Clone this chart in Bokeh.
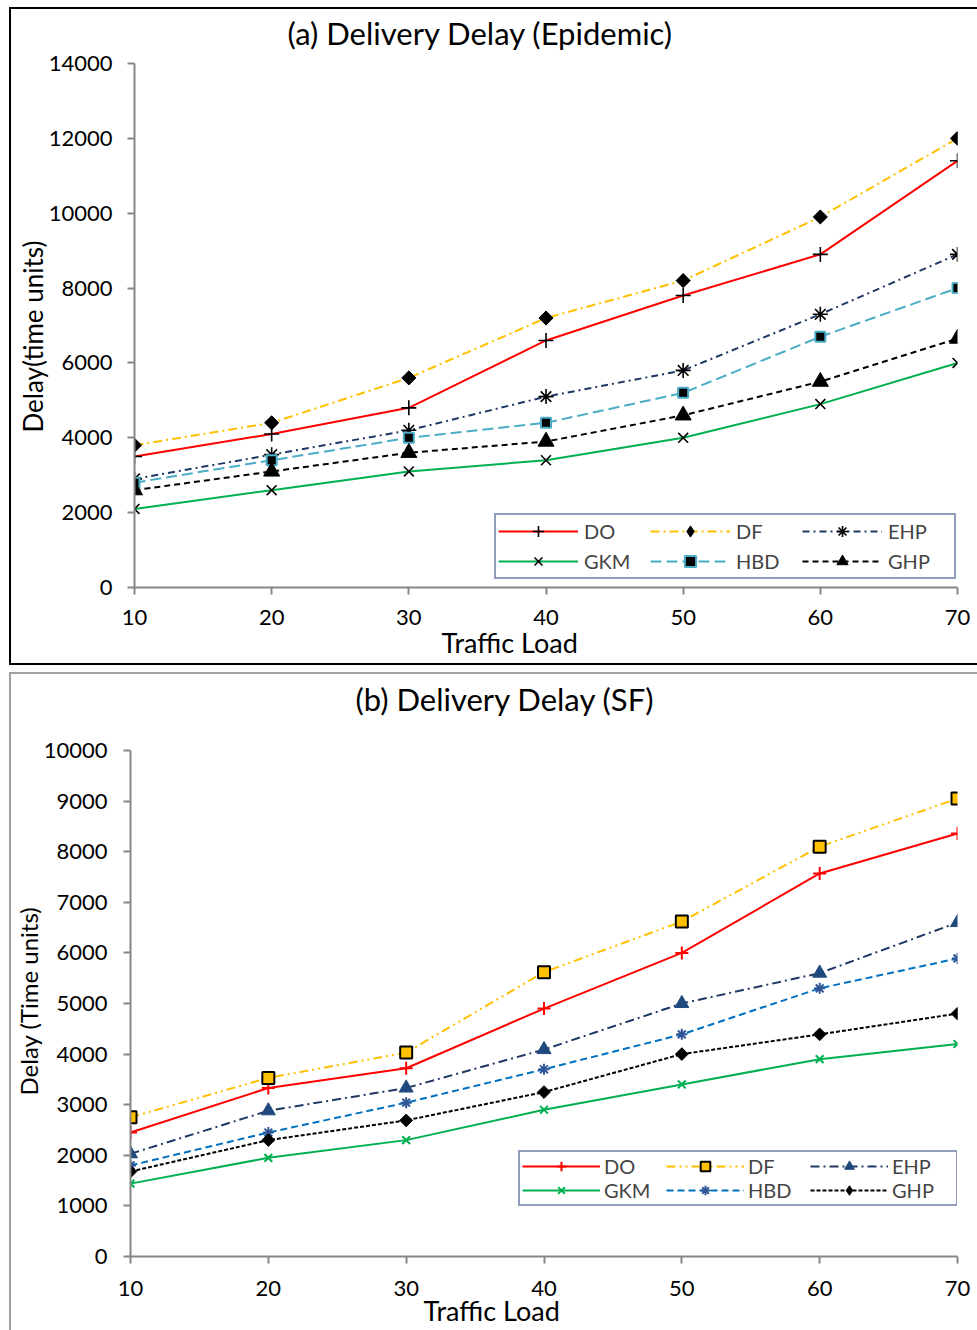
import math
from bokeh.plotting import figure
from bokeh.models import (Legend, LegendItem, Title, FixedTicker, Range1d,
                          ColumnDataSource)
from bokeh.embed import file_html
from bokeh.resources import INLINE

# ---------------- data ----------------
loads = [10, 20, 30, 40, 50, 60, 70]
series_names = ["DO", "DF", "EHP", "GKM", "HBD", "GHP"]

# (a) Epidemic
epi_do = [3500, 4100, 4800, 6600, 7800, 8900, 11400]
epi_df = [3800, 4400, 5600, 7200, 8200, 9900, 12000]
epi_ehp = [2900, 3550, 4200, 5100, 5800, 7300, 8900]
epi_gkm = [2100, 2600, 3100, 3400, 4000, 4900, 6000]
epi_hbd = [2800, 3400, 4000, 4400, 5200, 6700, 8000]
epi_ghp = [2600, 3100, 3600, 3900, 4600, 5500, 6650]

# (b) SF
sf_do = [2450, 3330, 3720, 4900, 6000, 7570, 8360]
sf_df = [2750, 3530, 4030, 5620, 6620, 8100, 9050]
sf_ehp = [2030, 2880, 3330, 4090, 5000, 5600, 6600]
sf_gkm = [1440, 1950, 2300, 2900, 3400, 3900, 4200]
sf_hbd = [1800, 2450, 3040, 3700, 4390, 5300, 5890]
sf_ghp = [1680, 2300, 2690, 3250, 4000, 4390, 4800]

epi_yticks = [0, 2000, 4000, 6000, 8000, 10000, 12000, 14000]
sf_yticks = [0, 1000, 2000, 3000, 4000, 5000, 6000, 7000, 8000, 9000, 10000]
x_ticks = [10, 20, 30, 40, 50, 60, 70]

FONT = "Lato"
AXIS_GREY = "#868686"

# style: (line color, dash, marker, size, fill, marker line color, marker line width,
#         angle, legend marker, legend marker size)
epi_styles = {
    "DO":  ("#FF0000", "solid",   "cross",    15, "black", "black",   1.6, 0.0, None, 0),
    "DF":  ("#FFC000", "9 4 2 4", "square",   10, "black", "black",   1.0, math.pi / 4, "diamond", 12),
    "EHP": ("#1F3864", "7 4 2 4", "asterisk", 15, "black", "black",   1.6, 0.0, None, 0),
    "GKM": ("#00B050", "solid",   "x",        14, "black", "black",   1.6, 0.0, None, 0),
    "HBD": ("#4BACC6", "11 5",    "square",   10, "black", "#4BACC6", 2.0, 0.0, None, 0),
    "GHP": ("#000000", "6 4",     "triangle", 16, "black", "black",   1.0, 0.0, None, 0),
}
sf_styles = {
    "DO":  ("#FF0000", "solid",       "cross",    13, "#FF0000", "#FF0000", 2.0, 0.0, None, 0),
    "DF":  ("#FFC000", "9 4 2 4 2 4", "square",   12, "#FFC000", "black",   2.0, 0.0, None, 0),
    "EHP": ("#1F3864", "9 4 2 4",     "triangle", 14, "#1F497D", "#1F497D", 1.0, 0.0, None, 0),
    "GKM": ("#00B050", "solid",       "x",        11, "#00B050", "#00B050", 2.0, 0.0, None, 0),
    "HBD": ("#0070C0", "7 4",         "asterisk", 11, "#2F5597", "#2F5597", 2.0, 0.0, None, 0),
    "GHP": ("#000000", "4 2",         "square",   9,  "black",   "black",   1.0, math.pi / 4, "diamond", 10),
}


def make_title(text, size, align_offset, standoff):
    t = Title(text=text, align="left", offset=align_offset,
              text_font=FONT, text_font_size=size, text_font_style="normal",
              text_color="black")
    try:
        t.standoff = standoff
    except Exception:
        t.standoff = 0
    return t


def make_panel(series, styles, yticks, ymax, geom, texts, legend_geom, xstandoff, ystandoff,
               outline):
    (w, h, bl, br, bt, bb) = geom
    p = figure(width=w, height=h, output_backend="svg", toolbar_location=None,
               x_range=Range1d(10, 70), y_range=Range1d(0, ymax),
               min_border_left=bl, min_border_right=br, min_border_top=bt,
               min_border_bottom=bb, title=None)
    p.styles = {"outline": outline}
    p.xgrid.visible = False
    p.ygrid.visible = False
    p.outline_line_color = None
    p.background_fill_color = "white"
    p.border_fill_color = "white"

    for ax in (p.xaxis[0], p.yaxis[0]):
        ax.axis_line_color = AXIS_GREY
        ax.axis_line_width = 2
        ax.major_tick_line_color = AXIS_GREY
        ax.major_tick_line_width = 2
        ax.major_tick_in = 0
        ax.major_tick_out = 7
        ax.minor_tick_line_color = None
        ax.major_label_text_font = FONT
        ax.major_label_text_font_size = "22px"
        ax.major_label_text_color = "#000000"
    p.xaxis[0].ticker = FixedTicker(ticks=x_ticks)
    p.yaxis[0].ticker = FixedTicker(ticks=yticks)
    p.xaxis[0].major_label_standoff = xstandoff
    p.yaxis[0].major_label_standoff = ystandoff

    items = []
    for name in series_names:
        col, dash, mk, ms, fill, mline, mlw, ang, leg_mk, leg_ms = styles[name]
        ys = series[name]
        src = ColumnDataSource(dict(x=loads, y=ys))
        lr = p.line("x", "y", source=src, line_color=col, line_width=2, line_dash=dash)
        if leg_mk is not None:
            # a diamond that sits fully inside the rotated square; it gives the legend
            # its diamond glyph (legend glyphs ignore the marker angle)
            leg_r = p.scatter("x", "y", source=src, marker=leg_mk, size=leg_ms,
                              fill_color=fill, line_color=mline, line_width=1)
        sr = p.scatter("x", "y", source=src, marker=mk, size=ms, fill_color=fill,
                       line_color=mline, line_width=mlw, angle=ang)
        if leg_mk is not None:
            sr = leg_r
        items.append(LegendItem(label=name, renderers=[lr, sr]))

    (lx, ly, pad, sp, gw, gh, lso, lw, fs) = legend_geom
    legend = Legend(items=items, location=(lx, ly), orientation="horizontal", ncols=3,
                    padding=pad, spacing=sp, margin=0,
                    glyph_width=gw, glyph_height=gh, label_standoff=lso, label_width=lw,
                    label_text_font=FONT, label_text_font_size=fs,
                    label_text_baseline="middle",
                    border_line_color="#203A7A", border_line_width=2,
                    background_fill_color="white", background_fill_alpha=1.0)
    p.add_layout(legend)

    (title, t_off, t_gap, tfs), (xl, x_off, x_so, xfs), (yl, y_off, y_so, yfs) = texts
    # spacer between frame and title, then the title itself
    p.add_layout(make_title(" ", "2px", 0, t_gap), "above")
    p.add_layout(make_title(title, tfs, t_off, 0), "above")
    p.add_layout(make_title(xl, xfs, x_off, x_so), "below")
    p.add_layout(make_title(yl, yfs, y_off, y_so), "left")
    return p


epi = {"DO": epi_do, "DF": epi_df, "EHP": epi_ehp, "GKM": epi_gkm, "HBD": epi_hbd, "GHP": epi_ghp}
sf = {"DO": sf_do, "DF": sf_df, "EHP": sf_ehp, "GKM": sf_gkm, "HBD": sf_hbd, "GHP": sf_ghp}

p1 = make_panel(
    epi, epi_styles, epi_yticks, 14000,
    (966, 654, 123, 20, 54, 76),
    (("(a) Delivery Delay (Epidemic)", 153, 8, "31px"),
     ("Traffic Load", 307, -8, "27px"),
     ("Delay(time units)", 155, -6, "26px")),
    (360, 8, 2, 2, 80, 28, 6, 64, "20px"),
    15, 15,
    "2px solid #000000",
)
p1.margin = (9, 0, 0, 11)

p2 = make_panel(
    sf, sf_styles, sf_yticks, 10000,
    (966, 656, 119, 20, 76, 74),
    (("(b) Delivery Delay (SF)", 225, 29, "31px"),
     ("Traffic Load", 293, -14, "27px"),
     ("Delay (Time units)", 161, -4, "24px")),
    (388, 50, 2, 0, 78, 24, 4, 62, "20px"),
    17, 16,
    "2px solid #A0A0A0",
)
p2.margin = (11, 0, 0, 11)

open("out.html", "w").write(file_html([p1, p2], INLINE))
